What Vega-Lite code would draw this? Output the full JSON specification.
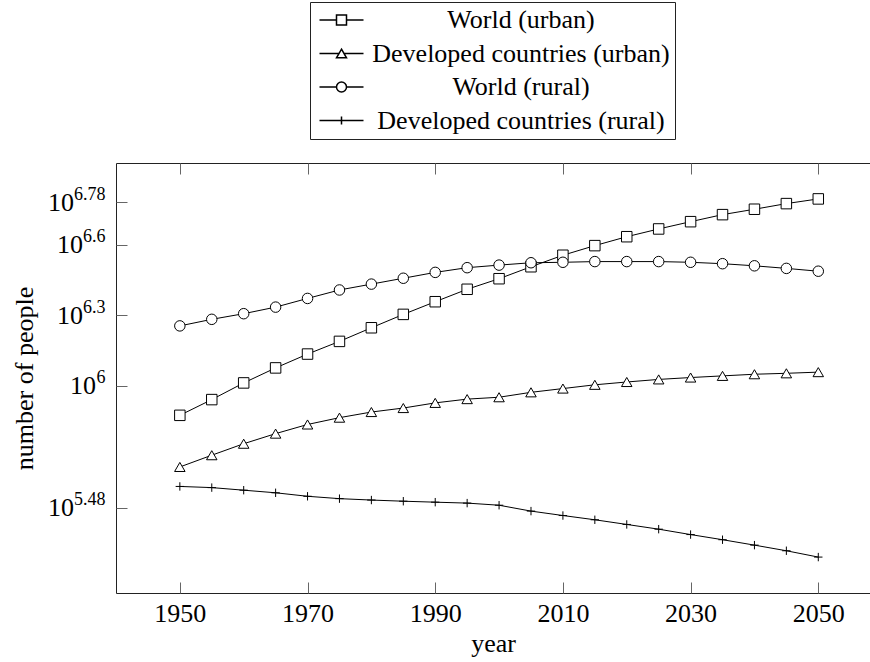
{
  "$schema": "https://vega.github.io/schema/vega-lite/v6.json",
  "autosize": "none",
  "padding": {"left": 116, "top": 163, "right": 0, "bottom": 69},
  "width": 754,
  "height": 430,
  "config": {
    "view": {"stroke": "#222", "strokeWidth": 1},
    "axis": {"grid": false, "domain": false, "labelFont": "Liberation Serif", "titleFont": "Liberation Serif", "labelColor": "black", "titleColor": "black", "titleFontWeight": "normal", "tickColor": "#666", "tickWidth": 1},
    "legend": {"labelFont": "Liberation Serif", "labelFontSize": 26, "labelColor": "black"}
  },
  "data": {"values": [
    {"year":1950,"series":"World (urban)","people":746400},
    {"year":1955,"series":"World (urban)","people":871000},
    {"year":1960,"series":"World (urban)","people":1025700},
    {"year":1965,"series":"World (urban)","people":1188500},
    {"year":1970,"series":"World (urban)","people":1361400},
    {"year":1975,"series":"World (urban)","people":1541700},
    {"year":1980,"series":"World (urban)","people":1762000},
    {"year":1985,"series":"World (urban)","people":2009100},
    {"year":1990,"series":"World (urban)","people":2275100},
    {"year":1995,"series":"World (urban)","people":2570400},
    {"year":2000,"series":"World (urban)","people":2851000},
    {"year":2005,"series":"World (urban)","people":3206300},
    {"year":2010,"series":"World (urban)","people":3589200},
    {"year":2015,"series":"World (urban)","people":3944600},
    {"year":2020,"series":"World (urban)","people":4305300},
    {"year":2025,"series":"World (urban)","people":4645200},
    {"year":2030,"series":"World (urban)","people":4988800},
    {"year":2035,"series":"World (urban)","people":5345600},
    {"year":2040,"series":"World (urban)","people":5636400},
    {"year":2045,"series":"World (urban)","people":5956600},
    {"year":2050,"series":"World (urban)","people":6237300},
    {"year":1950,"series":"Developed countries (urban)","people":449800},
    {"year":1955,"series":"Developed countries (urban)","people":504700},
    {"year":1960,"series":"Developed countries (urban)","people":564900},
    {"year":1965,"series":"Developed countries (urban)","people":623700},
    {"year":1970,"series":"Developed countries (urban)","people":682300},
    {"year":1975,"series":"Developed countries (urban)","people":729500},
    {"year":1980,"series":"Developed countries (urban)","people":770900},
    {"year":1985,"series":"Developed countries (urban)","people":801700},
    {"year":1990,"series":"Developed countries (urban)","people":843300},
    {"year":1995,"series":"Developed countries (urban)","people":875000},
    {"year":2000,"series":"Developed countries (urban)","people":891300},
    {"year":2005,"series":"Developed countries (urban)","people":935400},
    {"year":2010,"series":"Developed countries (urban)","people":970500},
    {"year":2015,"series":"Developed countries (urban)","people":1006900},
    {"year":2020,"series":"Developed countries (urban)","people":1035100},
    {"year":2025,"series":"Developed countries (urban)","people":1061700},
    {"year":2030,"series":"Developed countries (urban)","people":1081400},
    {"year":2035,"series":"Developed countries (urban)","people":1099000},
    {"year":2040,"series":"Developed countries (urban)","people":1116900},
    {"year":2045,"series":"Developed countries (urban)","people":1127200},
    {"year":2050,"series":"Developed countries (urban)","people":1140200},
    {"year":1950,"series":"World (rural)","people":1794700},
    {"year":1955,"series":"World (rural)","people":1914300},
    {"year":1960,"series":"World (rural)","people":2023000},
    {"year":1965,"series":"World (rural)","people":2157700},
    {"year":1970,"series":"World (rural)","people":2349600},
    {"year":1975,"series":"World (rural)","people":2552700},
    {"year":1980,"series":"World (rural)","people":2704000},
    {"year":1985,"series":"World (rural)","people":2864200},
    {"year":1990,"series":"World (rural)","people":3033900},
    {"year":1995,"series":"World (rural)","people":3176900},
    {"year":2000,"series":"World (rural)","people":3258400},
    {"year":2005,"series":"World (rural)","people":3334300},
    {"year":2010,"series":"World (rural)","people":3349700},
    {"year":2015,"series":"World (rural)","people":3372900},
    {"year":2020,"series":"World (rural)","people":3372900},
    {"year":2025,"series":"World (rural)","people":3372900},
    {"year":2030,"series":"World (rural)","people":3349700},
    {"year":2035,"series":"World (rural)","people":3303700},
    {"year":2040,"series":"World (rural)","people":3235900},
    {"year":2045,"series":"World (rural)","people":3155000},
    {"year":2050,"series":"World (rural)","people":3069000},
    {"year":1950,"series":"Developed countries (rural)","people":371500},
    {"year":1955,"series":"Developed countries (rural)","people":367300},
    {"year":1960,"series":"Developed countries (rural)","people":358100},
    {"year":1965,"series":"Developed countries (rural)","people":349100},
    {"year":1970,"series":"Developed countries (rural)","people":337300},
    {"year":1975,"series":"Developed countries (rural)","people":329600},
    {"year":1980,"series":"Developed countries (rural)","people":325100},
    {"year":1985,"series":"Developed countries (rural)","people":321400},
    {"year":1990,"series":"Developed countries (rural)","people":318400},
    {"year":1995,"series":"Developed countries (rural)","people":315500},
    {"year":2000,"series":"Developed countries (rural)","people":309000},
    {"year":2005,"series":"Developed countries (rural)","people":291700},
    {"year":2010,"series":"Developed countries (rural)","people":279300},
    {"year":2015,"series":"Developed countries (rural)","people":267900},
    {"year":2020,"series":"Developed countries (rural)","people":255900},
    {"year":2025,"series":"Developed countries (rural)","people":244300},
    {"year":2030,"series":"Developed countries (rural)","people":231700},
    {"year":2035,"series":"Developed countries (rural)","people":220300},
    {"year":2040,"series":"Developed countries (rural)","people":208900},
    {"year":2045,"series":"Developed countries (rural)","people":197700},
    {"year":2050,"series":"Developed countries (rural)","people":185800}
  ]},
  "resolve": {"axis": {"x": "independent", "y": "independent"}, "scale": {"shape": "independent"}, "legend": {"shape": "independent"}},
  "layer": [
    {
      "mark": {"type": "line", "stroke": "black", "strokeWidth": 1},
      "encoding": {
        "x": {"field": "year", "type": "quantitative",
          "scale": {"domain": [1940, 2058.1], "nice": false, "zero": false},
          "axis": {"orient": "bottom", "values": [1950, 1970, 1990, 2010, 2030, 2050], "format": "d", "ticks": false, "tickSize": 0, "labelFontSize": 26, "labelPadding": 7, "title": "year", "titleFontSize": 26, "titlePadding": 4}},
        "y": {"field": "people", "type": "quantitative",
          "scale": {"type": "log", "domain": [130620, 8871600], "nice": false},
          "axis": {"orient": "left", "values": [301995.2, 1000000, 1995262.3, 3981071.7, 6025595.9], "labelExpr": "'10'", "ticks": false, "tickSize": 0, "labelFontSize": 26, "labelPadding": {"expr": "datum.value > 5000000 || datum.value < 500000 ? 42.5 : (datum.value > 1500000 ? 33.5 : 20.5)"}, "title": "number of people", "titleFontSize": 26, "titlePadding": 10}},
        "detail": {"field": "series", "type": "nominal"}
      }
    },
    {
      "mark": {"type": "point", "filled": true, "fill": "white", "stroke": "black", "strokeWidth": 1, "opacity": 1, "size": 110},
      "encoding": {
        "x": {"field": "year", "type": "quantitative",
          "axis": {"orient": "bottom", "values": [1950, 1970, 1990, 2010, 2030, 2050], "labels": false, "ticks": true, "tickSize": -11, "title": null}},
        "y": {"field": "people", "type": "quantitative",
          "axis": {"orient": "left", "values": [301995.2, 1000000, 1995262.3, 3981071.7, 6025595.9], "labelExpr": "format(log(datum.value)/LN10, '.2~f')", "ticks": false, "tickSize": 0, "labelFontSize": 18, "labelPadding": 11, "labelOffset": -8, "title": null}},
        "shape": {"field": "series", "type": "nominal",
          "scale": {"domain": ["World (urban)", "Developed countries (urban)", "World (rural)", "Developed countries (rural)"],
            "range": ["square", "triangle-up", "circle", "M-0.8,0H0.8M0,-0.8V0.8"]},
          "legend": null
        }
      }
    },
    {
      "transform": [{"filter": "false"}],
      "mark": {"type": "point", "filled": true, "fill": "white", "stroke": "black", "strokeWidth": 1, "opacity": 1, "size": 100},
      "encoding": {
        "x": {"field": "year", "type": "quantitative",
          "axis": {"orient": "top", "values": [1950, 1970, 1990, 2010, 2030, 2050], "labels": false, "ticks": true, "tickSize": -11, "title": null}},
        "y": {"field": "people", "type": "quantitative",
          "axis": {"orient": "left", "values": [301995.2, 1000000, 1995262.3, 3981071.7, 6025595.9], "labels": false, "ticks": true, "tickSize": -11, "title": null}},
        "shape": {"field": "series", "type": "nominal",
          "scale": {"domain": ["World (urban)", "Developed countries (urban)", "World (rural)", "Developed countries (rural)"],
            "range": ["M-4.4,0H-1M1,0H4.4M-1,-1H1V1H-1Z", "M-4.4,0H-0.5M0.5,0H4.4M0,-0.87L1,0.87H-1Z", "M-4.4,0H-1M1,0H4.4M1,0A1,1,0,1,1,-1,0A1,1,0,1,1,1,0Z", "M-4.4,0H4.4M0,-0.8V0.8"]},
          "legend": {"title": null, "orient": "none", "legendX": 194, "legendY": -161, "direction": "vertical",
            "strokeColor": "#222", "padding": 5, "symbolSize": 100, "symbolOffset": 13.5, "labelOffset": 166.5, "labelAlign": "center", "labelLimit": 0, "rowPadding": 7.5,
            "labelFont": "Liberation Serif", "labelFontSize": 26, "labelColor": "black"}
        }
      }
    }
  ]
}
